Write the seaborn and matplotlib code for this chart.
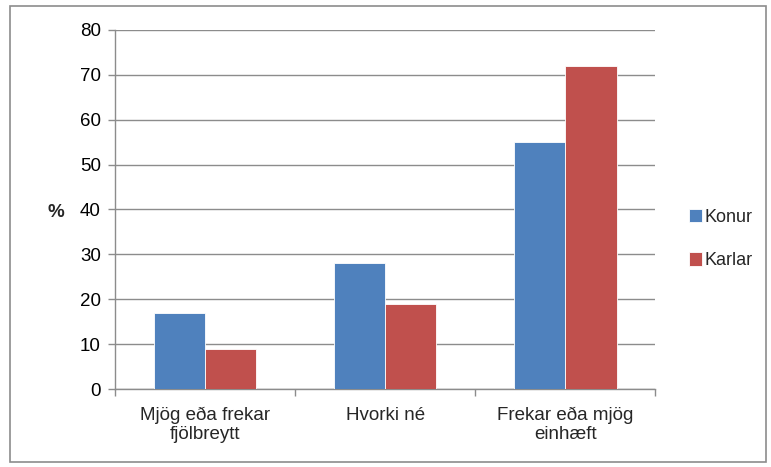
import pandas as pd
import numpy as np
import matplotlib
matplotlib.use("Agg")
import matplotlib.pyplot as plt
import seaborn as sns
from matplotlib.patches import Rectangle

# Gögn
flokkar = ["Mjög eða frekar\nfjölbreytt", "Hvorki né", "Frekar eða mjög\neinhæft"]
konur = [17, 28, 55]
karlar = [9, 19, 72]
hopar = ["Konur", "Karlar"]
litir = ["#4F81BD", "#C0504D"]
y_ticks = [0, 10, 20, 30, 40, 50, 60, 70, 80]

df = pd.DataFrame({
    "flokkur": flokkar * 2,
    "gildi": konur + karlar,
    "kyn": [hopar[0]] * 3 + [hopar[1]] * 3,
})

sns.set_theme(style="white")
plt.rcParams["font.family"] = ["Liberation Sans", "DejaVu Sans"]

fig = plt.figure(figsize=(7.71, 4.67), dpi=100)
ax = fig.add_axes([0.149, 0.167, 0.701, 0.769])

sns.barplot(data=df, x="flokkur", y="gildi", hue="kyn", palette=litir, saturation=1,
            width=0.57, edgecolor="white", linewidth=0.6, ax=ax, zorder=3)

# Ásar
ax.set_ylim(0, 80)
ax.set_xlim(-0.5, 2.5)
ax.set_yticks(y_ticks)
ax.yaxis.grid(True, color="#8C8C8C", linewidth=1.0, zorder=0)
ax.tick_params(axis="y", labelsize=13.5, length=5, width=1, color="#8C8C8C",
               left=True, pad=5, labelcolor="black")
ax.set_xticks([0, 1, 2])
ax.set_xticks([-0.5, 0.5, 1.5, 2.5], minor=True)
ax.tick_params(axis="x", which="major", length=0, labelsize=13.5, pad=13)
ax.tick_params(axis="x", which="minor", length=5, width=1, color="#8C8C8C", bottom=True)
for t in ax.get_xticklabels():
    t.set_linespacing(1.15)
for s in ["top", "right"]:
    ax.spines[s].set_visible(False)
for s in ["left", "bottom"]:
    ax.spines[s].set_color("#8C8C8C")
    ax.spines[s].set_linewidth(1.0)
ax.set_xlabel("")
ax.set_ylabel("")
fig.text(0.072, 0.545, "%", fontsize=13.5, fontweight="bold", ha="center", va="center")

# Skýringar
h, l = ax.get_legend_handles_labels()
ax.legend(h, l, loc="center left", bbox_to_anchor=(0.893, 0.488),
          bbox_transform=fig.transFigure, frameon=False, fontsize=13,
          borderpad=0, borderaxespad=0,
          handlelength=0.75, handleheight=0.75, handletextpad=0.15, labelspacing=1.45)

# Rammi utan um myndina
fig.patches.append(Rectangle((0.013, 0.011), 0.98, 0.976, transform=fig.transFigure,
                             fill=False, edgecolor="#8C8C8C", linewidth=1.2))

fig.savefig("out.png", dpi=100)
